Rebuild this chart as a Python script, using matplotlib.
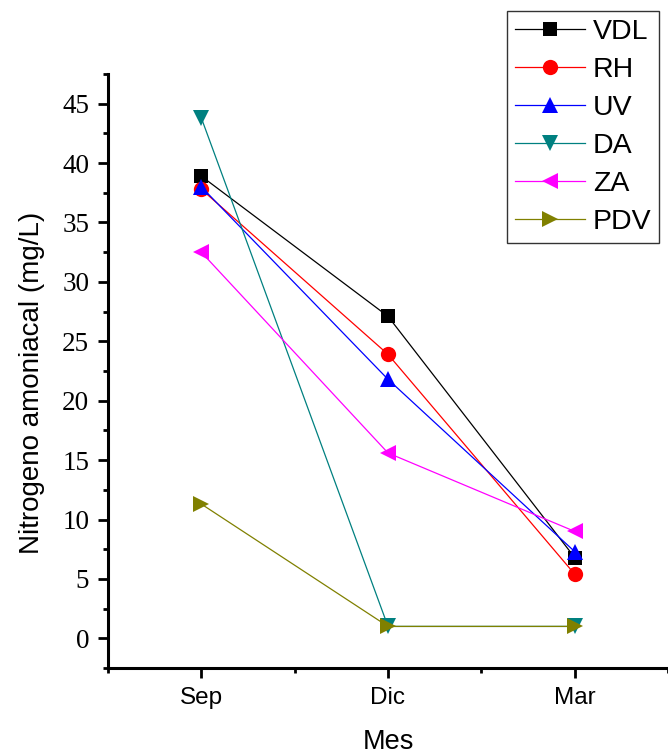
import matplotlib
matplotlib.use("Agg")
import matplotlib.pyplot as plt
from matplotlib.ticker import MultipleLocator, FixedLocator

months = ["Sep", "Dic", "Mar"]
x_pos = [1, 2, 3]
series_names = ["VDL", "RH", "UV", "DA", "ZA", "PDV"]
VDL = [38.9, 27.1, 6.8]
RH = [37.8, 23.9, 5.4]
UV = [38.0, 21.8, 7.3]
DA = [43.8, 1.0, 1.0]
ZA = [32.5, 15.6, 9.0]
PDV = [11.3, 1.0, 1.0]
y_ticks = [0, 5, 10, 15, 20, 25, 30, 35, 40, 45]

values = [VDL, RH, UV, DA, ZA, PDV]
colors = ["#000000", "#ff0000", "#0000ff", "#008080", "#ff00ff", "#808000"]
markers = ["s", "o", "^", "v", "<", ">"]
msizes = [9.5, 11, 11.5, 11.5, 11.5, 11.5]

fig = plt.figure(figsize=(6.68, 7.56), dpi=100)
ax = fig.add_axes([108/668, 88/756, 560/668, 594/756])

for name, vals, c, m, ms in zip(series_names, values, colors, markers, msizes):
    ax.plot(x_pos, vals, color=c, marker=m, markersize=ms, linewidth=0.9,
            markeredgewidth=0, label=name)

ax.set_xlim(0.5, 3.5)
ax.set_ylim(-2.5, 47.5)
ax.set_xticks(x_pos)
ax.set_xticklabels(months, fontfamily="Liberation Sans", fontsize=17.5)
ax.xaxis.set_minor_locator(FixedLocator([0.5, 1.5, 2.5, 3.5]))
ax.set_yticks(y_ticks)
ax.set_yticklabels([str(v) for v in y_ticks], fontfamily="Liberation Serif", fontsize=19.5)
ax.yaxis.set_minor_locator(MultipleLocator(5, offset=2.5))

for s in ["top", "right"]:
    ax.spines[s].set_visible(False)
for s in ["left", "bottom"]:
    ax.spines[s].set_linewidth(2.2)

ax.tick_params(which="major", direction="out", length=7.5, width=2, pad=6)
ax.tick_params(which="minor", direction="out", length=3.5, width=2)

ax.set_xlabel("Mes", fontfamily="Liberation Sans", fontsize=19.5, va="baseline")
ax.xaxis.set_label_coords(0.5, -0.1364)
ax.set_ylabel("Nitrogeno amoniacal (mg/L)", fontfamily="Liberation Sans", fontsize=20)
ax.yaxis.set_label_coords(-0.112, 0.48)

leg = ax.legend(loc="upper left", bbox_to_anchor=(507/668, 1 - 11/756),
                bbox_transform=fig.transFigure, borderaxespad=0,
                prop={"family": "Liberation Sans", "size": 20.5},
                frameon=True, fancybox=False, edgecolor="#333333",
                framealpha=1, handlelength=2.45, handletextpad=0.28,
                labelspacing=0.42, borderpad=0.28, numpoints=1)
leg.get_frame().set_linewidth(1.0)

fig.savefig("out.png", dpi=100)
